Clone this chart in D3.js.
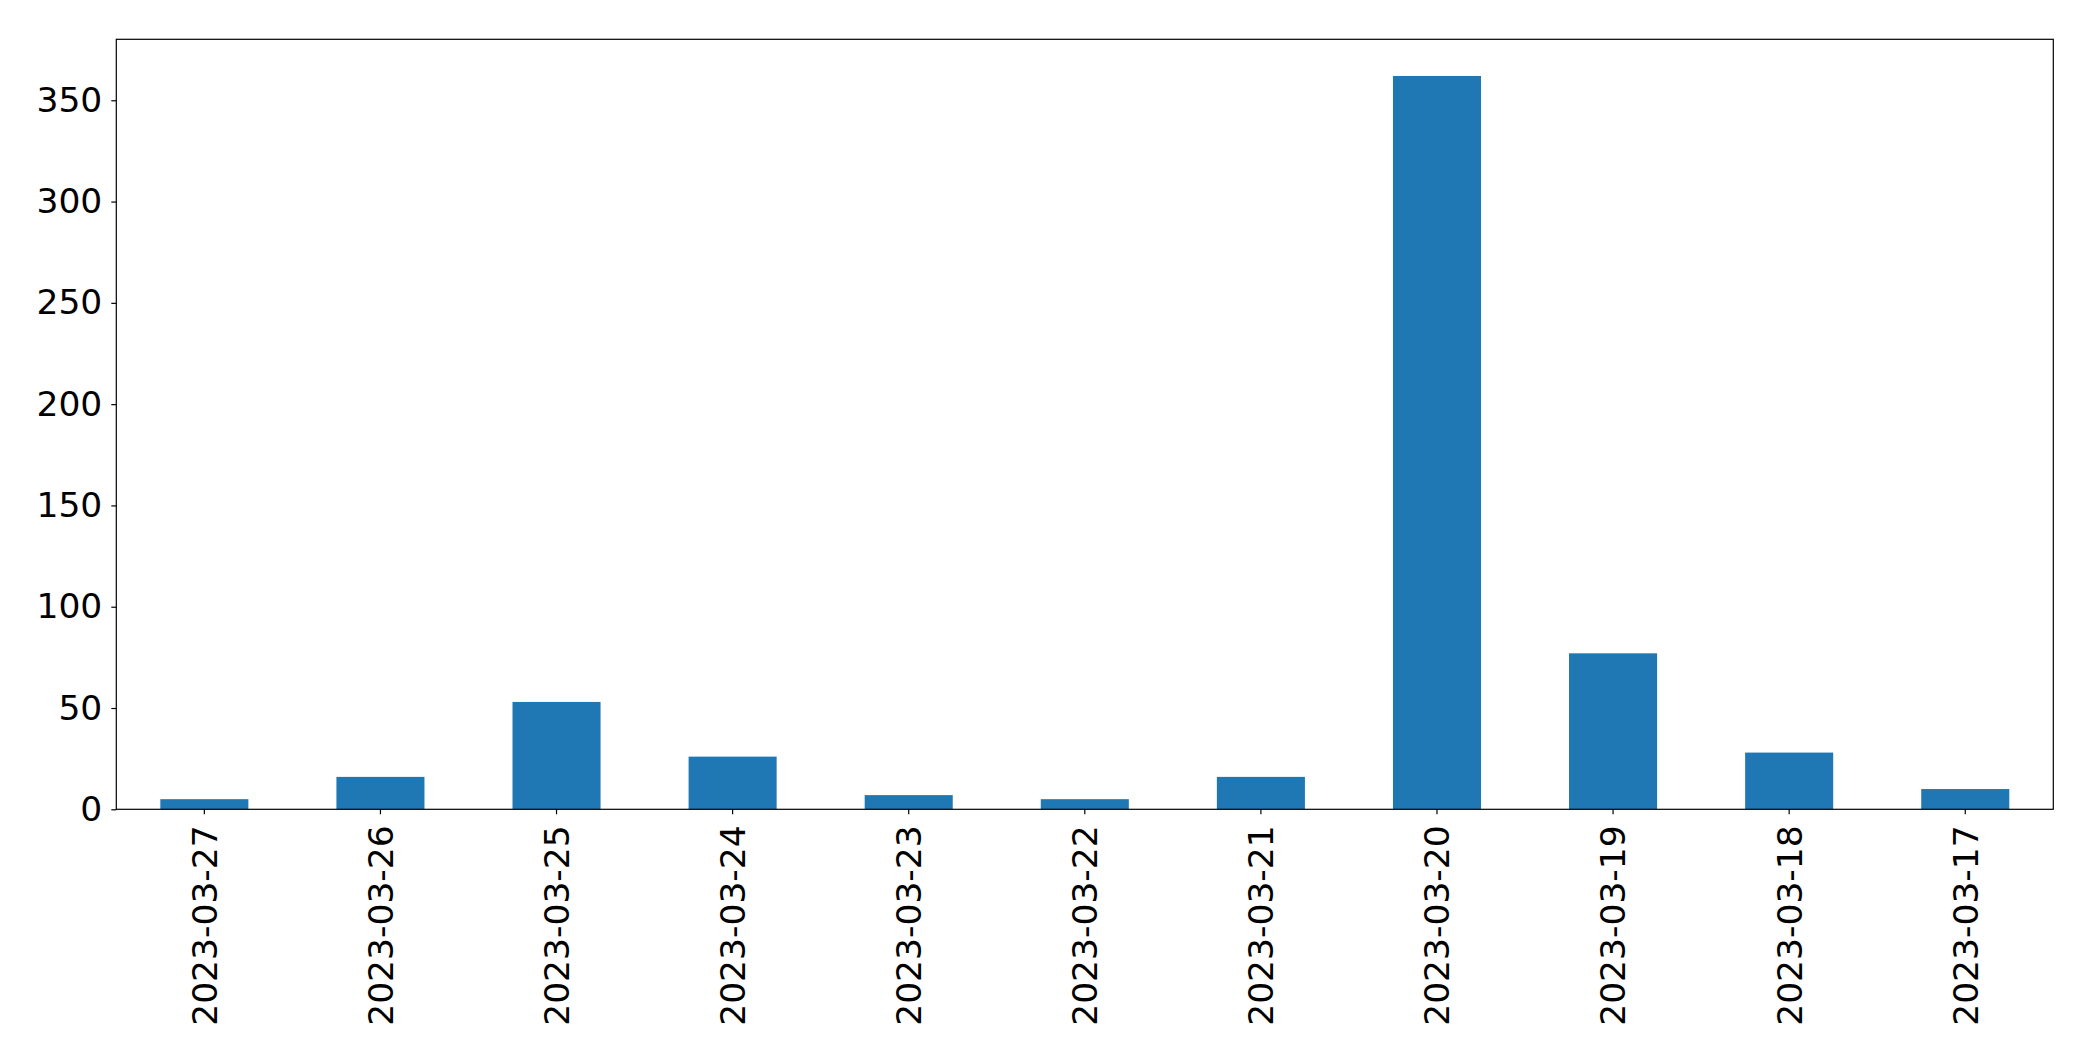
<!DOCTYPE html>
<html>
<head>
<meta charset="utf-8">
<script src="https://cdn.jsdelivr.net/npm/d3@7"></script>
<style>
  html, body { margin: 0; padding: 0; background: #fff; }
  svg { display: block; }
  text { font-family: "DejaVu Sans", sans-serif; fill: #000; }
</style>
</head>
<body>
<svg id="chart" width="2093" height="1061"></svg>
<script>
const categories = ["2023-03-27","2023-03-26","2023-03-25","2023-03-24","2023-03-23","2023-03-22","2023-03-21","2023-03-20","2023-03-19","2023-03-18","2023-03-17"];
const values = [5, 16, 53, 26, 7, 5, 16, 362, 77, 28, 10];
const yTicks = [0, 50, 100, 150, 200, 250, 300, 350];

(function () {
const plotLeft = 116.3, plotRight = 2053.3, plotTop = 39.3, plotBottom = 809.3;
const svg = d3.select("#chart");

const x = d3.scaleBand().domain(categories).range([plotLeft, plotRight]).paddingInner(0.5).paddingOuter(0.25);
const yMax = d3.max(values) * 1.05;
const y = d3.scaleLinear().domain([0, yMax]).range([plotBottom, plotTop]);

svg.append("g").selectAll("rect").data(values).join("rect")
  .attr("x", (d, i) => x(categories[i]))
  .attr("width", x.bandwidth())
  .attr("y", d => y(d))
  .attr("height", d => y(0) - y(d))
  .attr("fill", "#1f77b4");

// frame
svg.append("rect").attr("x", plotLeft).attr("y", plotTop).attr("width", plotRight - plotLeft).attr("height", plotBottom - plotTop)
  .attr("fill", "none").attr("stroke", "#000").attr("stroke-width", 1.2);

// y axis
const yAxis = d3.axisLeft(y).tickValues(yTicks).tickSize(5).tickPadding(9).tickFormat(d3.format("d"));
const gy = svg.append("g").attr("transform", `translate(${plotLeft},0)`).call(yAxis);
gy.select(".domain").remove();
gy.selectAll("line").attr("stroke", "#000").attr("stroke-width", 1.2);
gy.selectAll("text").attr("font-size", 34.5).attr("font-family", "DejaVu Sans").attr("fill", "#000");

// x axis
const xAxis = d3.axisBottom(x).tickSize(5).tickPadding(0);
const gx = svg.append("g").attr("transform", `translate(0,${plotBottom})`).call(xAxis);
gx.select(".domain").remove();
gx.selectAll("line").attr("stroke", "#000").attr("stroke-width", 1.2);
gx.selectAll("text")
  .attr("font-size", 34.5).attr("font-family", "DejaVu Sans").attr("fill", "#000")
  .attr("transform", "rotate(-90)")
  .attr("text-anchor", "end")
  .attr("x", -16)
  .attr("y", 0)
  .attr("dy", "0.36em");
})();
</script>
</body>
</html>
